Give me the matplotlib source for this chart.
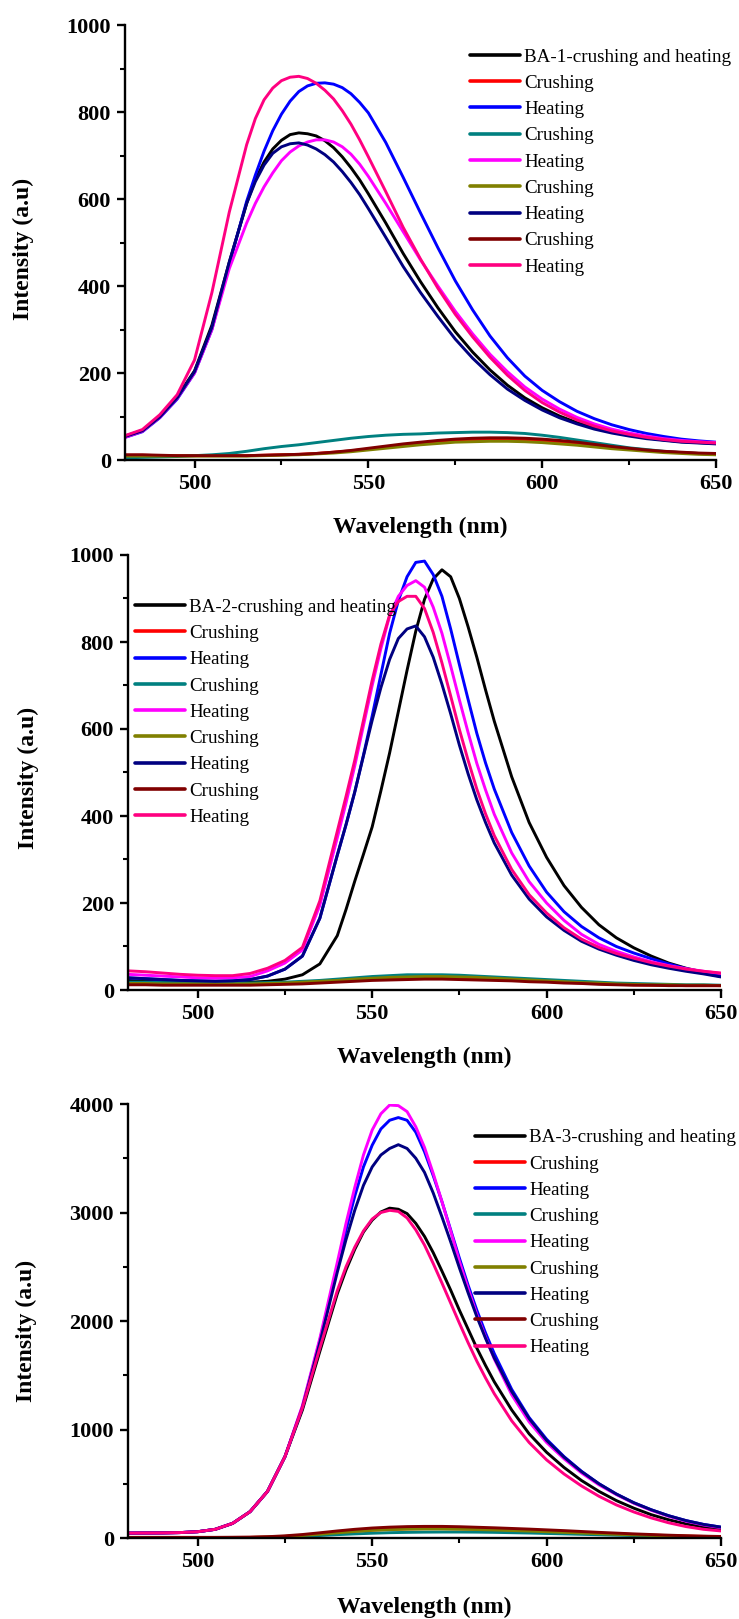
import matplotlib
matplotlib.use("Agg")
import matplotlib.pyplot as plt
from matplotlib.ticker import MultipleLocator

plt.rcParams['font.family'] = ['Liberation Serif', 'DejaVu Serif']

# coarse grid (5 nm) used by the weak "Crushing" curves
wavelength = [480, 485, 490, 495, 500, 505, 510, 515, 520, 525, 530, 535, 540, 545, 550, 555, 560,
              565, 570, 575, 580, 585, 590, 595, 600, 605, 610, 615, 620, 625, 630, 635, 640, 645, 650]
# grids with extra readings around the peaks
wavelength1 = [480, 485, 490, 495, 500, 505, 510, 515, 517.5, 520, 522.5, 525, 527.5, 530, 532.5, 535,
               537.5, 540, 542.5, 545, 547.5, 550, 555, 560, 565, 570, 575, 580, 585, 590, 595, 600,
               605, 610, 615, 620, 625, 630, 635, 640, 645, 650]
wavelength23 = [480, 485, 490, 495, 500, 505, 510, 515, 520, 525, 530, 535, 540, 542.5, 545, 547.5, 550,
                552.5, 555, 557.5, 560, 562.5, 565, 567.5, 570, 572.5, 575, 577.5, 580, 582.5, 585, 590,
                595, 600, 605, 610, 615, 620, 625, 630, 635, 640, 645, 650]

labels1 = ["BA-1-crushing and heating", "Crushing", "Heating", "Crushing", "Heating",
           "Crushing", "Heating", "Crushing", "Heating"]
labels2 = ["BA-2-crushing and heating", "Crushing", "Heating", "Crushing", "Heating",
           "Crushing", "Heating", "Crushing", "Heating"]
labels3 = ["BA-3-crushing and heating", "Crushing", "Heating", "Crushing", "Heating",
           "Crushing", "Heating", "Crushing", "Heating"]

colors = ['#000000', '#FF0000', '#0000FF', '#008080', '#FF00FF', '#808000', '#000080', '#800000', '#FF0080']

# ---- BA-1 (strong curves on wavelength1, weak curves on wavelength) ----
black1 = [55, 68, 100, 145, 205, 310, 455, 590, 645, 685, 715, 735, 748, 752, 750, 745,
          734, 718, 697, 672, 644, 612, 545, 475, 410, 350, 295, 248, 207, 172, 143, 120,
          101, 86, 74, 64, 57, 51, 46, 42, 40, 38]
red1 = [11, 11, 10, 10, 10, 10, 10, 10, 11, 12, 13, 15, 18, 21, 25, 30, 34, 38, 41, 44,
        46, 47, 47, 46, 44, 41, 38, 34, 30, 26, 22, 19, 17, 15, 14]
blue1 = [52, 65, 97, 140, 200, 300, 450, 595, 655, 710, 757, 795, 825, 847, 860, 866,
         867, 864, 856, 842, 822, 798, 730, 650, 568, 488, 412, 345, 285, 235, 193, 160,
         134, 112, 95, 81, 70, 61, 54, 48, 44, 41]
teal1 = [5, 6, 7, 8, 10, 12, 15, 20, 26, 31, 35, 40, 45, 50, 54, 57, 59, 60, 62, 63,
         64, 64, 63, 61, 57, 52, 46, 40, 34, 28, 24, 20, 17, 15, 13]
magenta1 = [52, 66, 98, 142, 200, 300, 440, 545, 590, 628, 660, 688, 708, 722, 731, 736,
            736, 731, 720, 703, 680, 652, 590, 525, 460, 400, 342, 290, 243, 203, 168, 140,
            117, 98, 83, 71, 62, 55, 49, 45, 42, 40]
olive1 = [9, 9, 9, 9, 9, 9, 9, 9, 10, 11, 12, 14, 16, 19, 23, 27, 31, 35, 38, 41,
          42, 43, 43, 42, 40, 37, 34, 30, 26, 23, 20, 17, 15, 13, 12]
navy1 = [54, 67, 99, 143, 203, 305, 455, 590, 640, 678, 705, 720, 727, 729, 724, 715,
         702, 685, 663, 638, 610, 578, 512, 445, 385, 330, 278, 234, 196, 163, 137, 115,
         97, 83, 71, 62, 55, 49, 45, 41, 39, 37]
maroon1 = [12, 12, 11, 10, 10, 10, 10, 10, 11, 12, 13, 15, 18, 22, 27, 32, 37, 41, 45, 48,
           50, 51, 51, 50, 48, 45, 41, 36, 31, 27, 23, 20, 18, 16, 15]
pink1 = [56, 70, 104, 150, 230, 385, 570, 725, 785, 828, 855, 872, 880, 882, 877, 866,
         850, 830, 803, 772, 736, 697, 617, 535, 462, 395, 335, 283, 236, 195, 160, 132,
         110, 92, 78, 67, 59, 52, 47, 43, 41, 39]

# ---- BA-2 (strong curves on wavelength23, weak curves on wavelength) ----
black2 = [22, 20, 19, 18, 17, 17, 17, 18, 20, 25, 35, 60, 125, 185, 250, 312, 375,
          458, 545, 640, 735, 825, 898, 945, 966, 950, 900, 835, 765, 690, 618, 490,
          385, 305, 240, 190, 150, 120, 97, 78, 62, 50, 41, 34]
red2 = [14, 14, 13, 13, 13, 13, 13, 13, 14, 15, 17, 19, 21, 24, 26, 28, 29, 30, 30, 29,
        28, 26, 24, 22, 20, 18, 16, 15, 13, 12, 11, 11, 10, 10, 10]
blue2 = [28, 26, 24, 22, 21, 20, 21, 24, 32, 48, 78, 165, 310, 380, 455, 540, 630,
         725, 820, 895, 950, 983, 986, 955, 905, 830, 748, 668, 590, 522, 462, 362,
         285, 225, 180, 146, 120, 100, 85, 72, 60, 49, 39, 31]
teal2 = [18, 18, 17, 17, 16, 16, 16, 16, 17, 18, 20, 22, 25, 28, 31, 33, 35, 35, 35, 34,
         32, 30, 28, 26, 24, 22, 20, 18, 16, 15, 14, 13, 12, 12, 11]
magenta2 = [36, 34, 32, 30, 28, 27, 28, 31, 44, 62, 92, 195, 350, 430, 515, 608, 700,
            785, 860, 905, 930, 941, 926, 880, 820, 745, 667, 592, 521, 460, 404, 315,
            249, 200, 160, 128, 105, 89, 76, 65, 56, 49, 43, 38]
olive2 = [15, 15, 14, 14, 14, 14, 14, 14, 15, 16, 18, 20, 22, 25, 27, 29, 30, 31, 31, 30,
          29, 27, 25, 23, 21, 19, 17, 16, 14, 13, 12, 12, 11, 11, 10]
navy2 = [28, 26, 24, 22, 21, 20, 21, 24, 32, 48, 78, 165, 310, 380, 455, 538, 620,
         695, 760, 808, 830, 837, 812, 765, 703, 635, 563, 497, 437, 385, 338, 264,
         209, 168, 137, 112, 94, 80, 68, 58, 50, 43, 37, 30]
maroon2 = [12, 12, 11, 11, 11, 11, 11, 11, 12, 13, 14, 16, 18, 20, 22, 23, 24, 25, 25, 24,
           23, 22, 21, 19, 18, 16, 15, 13, 12, 11, 11, 10, 10, 10, 10]
pink2 = [44, 42, 39, 36, 34, 33, 33, 38, 50, 68, 98, 205, 365, 445, 528, 620, 712,
         795, 862, 893, 905, 905, 877, 822, 752, 676, 599, 528, 462, 405, 355, 277,
         219, 177, 143, 117, 98, 84, 73, 63, 55, 48, 43, 39]

# ---- BA-3 (strong curves on wavelength23, weak curves on wavelength) ----
black3 = [45, 46, 47, 50, 58, 80, 135, 243, 430, 750, 1180, 1720, 2250, 2470, 2660, 2820, 2930,
          3005, 3040, 3030, 2990, 2900, 2780, 2630, 2460, 2285, 2100, 1925, 1750, 1590, 1440, 1180,
          960, 790, 650, 530, 430, 345, 275, 215, 168, 130, 102, 82]
red3 = [4, 4, 4, 4, 4, 4, 5, 6, 9, 15, 25, 38, 52, 64, 74, 81, 85, 87, 87, 85,
        82, 78, 73, 68, 62, 56, 50, 44, 38, 32, 27, 22, 18, 15, 12]
blue3 = [45, 46, 47, 50, 58, 80, 135, 243, 430, 750, 1210, 1820, 2500, 2840, 3150, 3420, 3620,
         3770, 3850, 3875, 3850, 3740, 3560, 3340, 3100, 2840, 2580, 2330, 2100, 1890, 1700, 1370,
         1110, 910, 750, 615, 500, 405, 325, 260, 205, 160, 125, 100]
teal3 = [2, 2, 2, 2, 2, 2, 3, 4, 6, 10, 16, 23, 31, 38, 44, 49, 52, 54, 55, 55,
         54, 52, 49, 46, 42, 38, 34, 30, 26, 22, 18, 15, 12, 10, 8]
magenta3 = [45, 46, 47, 50, 58, 80, 135, 243, 430, 750, 1220, 1840, 2540, 2900, 3230, 3530, 3760,
            3910, 3990, 3985, 3930, 3790, 3600, 3360, 3100, 2830, 2550, 2300, 2060, 1850, 1650, 1320,
            1070, 880, 730, 600, 490, 400, 320, 255, 200, 155, 120, 95]
olive3 = [3, 3, 3, 3, 3, 3, 4, 5, 8, 14, 23, 35, 48, 60, 70, 77, 81, 83, 83, 81,
          78, 74, 69, 64, 58, 52, 46, 40, 34, 29, 24, 20, 16, 13, 11]
navy3 = [45, 46, 47, 50, 58, 80, 135, 243, 430, 750, 1200, 1800, 2450, 2750, 3020, 3250, 3420,
         3530, 3590, 3625, 3590, 3500, 3370, 3180, 2960, 2730, 2490, 2260, 2040, 1840, 1660, 1350,
         1100, 900, 745, 612, 500, 405, 325, 260, 205, 160, 125, 100]
maroon3 = [6, 6, 6, 6, 6, 6, 7, 8, 12, 20, 32, 48, 65, 80, 92, 100, 105, 107, 107, 104,
           99, 94, 88, 82, 75, 68, 60, 52, 45, 38, 32, 26, 21, 17, 14]
pink3 = [45, 46, 47, 50, 58, 80, 135, 243, 430, 750, 1200, 1750, 2280, 2500, 2680, 2830, 2940,
         3000, 3020, 3010, 2950, 2840, 2700, 2530, 2350, 2165, 1980, 1800, 1630, 1475, 1330, 1080,
         880, 720, 590, 480, 385, 305, 240, 185, 140, 105, 80, 65]

panels = [
    dict(series=[black1, red1, blue1, teal1, magenta1, olive1, navy1, maroon1, pink1],
         grids=[wavelength1, wavelength, wavelength1, wavelength, wavelength1, wavelength,
                wavelength1, wavelength, wavelength1],
         labels=labels1, ymax=1000, ymajor=200, yminor=100,
         rect_px=(125, 25, 716, 460), legend_px=(470, 54.3),
         ylabel_px=(23.5, 249), xlabel_y=527),
    dict(series=[black2, red2, blue2, teal2, magenta2, olive2, navy2, maroon2, pink2],
         grids=[wavelength23, wavelength, wavelength23, wavelength, wavelength23, wavelength,
                wavelength23, wavelength, wavelength23],
         labels=labels2, ymax=1000, ymajor=200, yminor=100,
         rect_px=(128, 555, 721, 990), legend_px=(135, 604.4),
         ylabel_px=(28, 778), xlabel_y=1057),
    dict(series=[black3, red3, blue3, teal3, magenta3, olive3, navy3, maroon3, pink3],
         grids=[wavelength23, wavelength, wavelength23, wavelength, wavelength23, wavelength,
                wavelength23, wavelength, wavelength23],
         labels=labels3, ymax=4000, ymajor=1000, yminor=500,
         rect_px=(128, 1104, 721, 1538), legend_px=(475, 1135),
         ylabel_px=(26, 1331), xlabel_y=1607),
]

W, H = 739, 1619
fig = plt.figure(figsize=(W / 100, H / 100), dpi=100)

for p in panels:
    x0, y0, x1, y1 = p['rect_px']
    ax = fig.add_axes([x0 / W, 1 - y1 / H, (x1 - x0) / W, (y1 - y0) / H])
    for xs, ys, c, lab in zip(p['grids'], p['series'], colors, p['labels']):
        ax.plot(xs, ys, color=c, lw=2.1, label=lab, solid_joinstyle='round', solid_capstyle='round')
    ax.set_xlim(480, 650)
    ax.set_ylim(0, p['ymax'])
    ax.xaxis.set_major_locator(MultipleLocator(50))
    ax.xaxis.set_minor_locator(MultipleLocator(25))
    ax.yaxis.set_major_locator(MultipleLocator(p['ymajor']))
    ax.yaxis.set_minor_locator(MultipleLocator(p['yminor']))
    for s in ['top', 'right']:
        ax.spines[s].set_visible(False)
    for s in ['left', 'bottom']:
        ax.spines[s].set_linewidth(1.7)
    ax.tick_params(which='major', direction='out', length=6, width=1.7, labelsize=16, pad=4)
    ax.tick_params(which='minor', direction='out', length=3.5, width=1.5)
    for t in ax.get_xticklabels() + ax.get_yticklabels():
        t.set_fontweight('bold')
    ax.set_xlabel("Wavelength (nm)", fontsize=17, fontweight='bold', va='center')
    ax.set_ylabel("Intensity (a.u)", fontsize=17, fontweight='bold', va='center')
    ax.xaxis.set_label_coords(0.5, (y1 - p['xlabel_y']) / (y1 - y0))
    lx, ly = p['ylabel_px']
    ax.yaxis.set_label_coords((lx - x0) / (x1 - x0), (y1 - ly) / (y1 - y0))
    hx, hy = p['legend_px']
    leg = ax.legend(loc='upper left', bbox_to_anchor=(hx / W, 1 - (hy - 6) / H),
                    bbox_transform=fig.transFigure, frameon=False, fontsize=13.7,
                    handlelength=2.65, handletextpad=0.2, labelspacing=0.47, borderpad=0,
                    borderaxespad=0)
    for line in leg.get_lines():
        line.set_linewidth(2.6)

fig.savefig("out.png", dpi=100)
